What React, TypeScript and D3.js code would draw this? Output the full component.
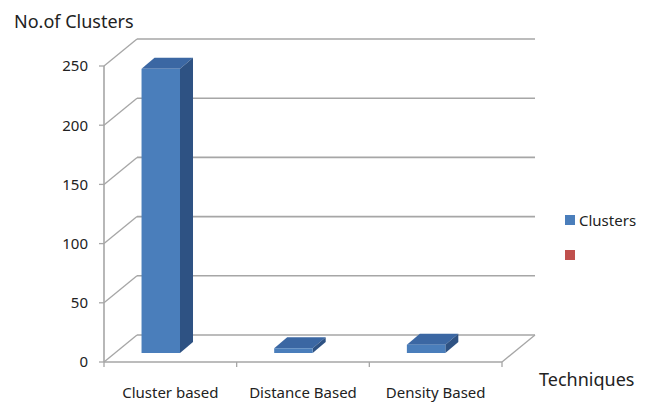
import React from 'react';
import * as d3 from 'd3';

const categories = ['Cluster based', 'Distance Based', 'Density Based'];
const clusters = [240, 4, 7];
const yTicks = [0, 50, 100, 150, 200, 250];
const legendItems = [
  { label: 'Clusters', color: '#4A7EBB' },
  { label: '', color: '#C0504D' },
];

const W = 654;
const H = 403;
const FONT = "'Noto Sans', 'Open Sans', sans-serif";

export default function App() {
  // front plane of the 3D box
  const x = d3.scaleBand<string>().domain(categories).range([104, 502]);
  const y = d3.scaleLinear().domain([0, 250]).range([362, 66]);
  const depth = { dx: 33, dy: -27 };
  // bars sit a little way into the box
  const barOff = { dx: 11, dy: -9 };
  const barDepth = { dx: 13, dy: -11 };
  const bw = x.bandwidth();

  const grid = '#A6A6A6';

  return (
    <svg width={W} height={H} style={{ position: 'absolute', left: 0, top: 0, background: '#fff' }}>
      {/* back wall gridlines */}
      {yTicks.map(t => (
        <line key={'bg' + t} x1={104 + depth.dx} x2={502 + depth.dx}
          y1={y(t) + depth.dy} y2={y(t) + depth.dy} stroke={grid} strokeWidth={1.6} />
      ))}
      {/* left wall obliques */}
      {yTicks.map(t => (
        <line key={'lw' + t} x1={104} x2={104 + depth.dx}
          y1={y(t)} y2={y(t) + depth.dy} stroke={grid} strokeWidth={1.3} />
      ))}
      {/* floor */}
      <line x1={502} y1={y(0)} x2={502 + depth.dx} y2={y(0) + depth.dy} stroke={grid} strokeWidth={1.3} />
      <line x1={104} y1={y(0)} x2={502} y2={y(0)} stroke={grid} strokeWidth={1.6} />
      {/* y axis */}
      <line x1={104} y1={y(250)} x2={104} y2={y(0)} stroke={grid} strokeWidth={1.6} />
      {yTicks.map(t => (
        <g key={'yt' + t}>
          <line x1={99} x2={104} y1={y(t)} y2={y(t)} stroke={grid} strokeWidth={1.3} />
          <text x={88} y={y(t)} dy="0.36em" textAnchor="end" fontFamily={FONT}
            fontSize={15} fill="#222">{t}</text>
        </g>
      ))}
      {/* category ticks */}
      {[...categories.map(c => x(c) as number), 502].map((v, i) => (
        <line key={'xt' + i} x1={v} x2={v} y1={y(0)} y2={y(0) + 5} stroke={grid} strokeWidth={1.3} />
      ))}
      {/* bars */}
      {categories.map((c, i) => {
        const x0 = (x(c) as number) + bw * 0.2 + barOff.dx;
        const x1 = x0 + bw * 0.29;
        const yb = y(0) + barOff.dy;
        const yt = y(clusters[i]) + barOff.dy;
        const { dx, dy } = barDepth;
        return (
          <g key={c}>
            <polygon points={`${x0},${yt} ${x1},${yt} ${x1 + dx},${yt + dy} ${x0 + dx},${yt + dy}`}
              fill="#3B67A3" />
            <polygon points={`${x1},${yt} ${x1 + dx},${yt + dy} ${x1 + dx},${yb + dy} ${x1},${yb}`}
              fill="#2E5283" />
            <rect x={x0} y={yt} width={x1 - x0} height={yb - yt} fill="#4A7EBB" />
          </g>
        );
      })}
      {/* category labels */}
      {categories.map(c => (
        <text key={'cl' + c} x={(x(c) as number) + bw / 2} y={398} textAnchor="middle"
          fontFamily={FONT} fontSize={15} fill="#222">{c}</text>
      ))}
      {/* titles */}
      <text x={14} y={28} fontFamily={FONT} fontSize={18} fill="#222">No.of Clusters</text>
      <text x={539} y={386} fontFamily={FONT} fontSize={18} fill="#222">Techniques</text>
      {/* legend */}
      {legendItems.map((d, i) => (
        <g key={'lg' + i} transform={`translate(565,${215 + i * 35})`}>
          <rect width={10} height={10} fill={d.color} />
          <text x={14} y={11} fontFamily={FONT} fontSize={15} fill="#222">{d.label}</text>
        </g>
      ))}
    </svg>
  );
}
